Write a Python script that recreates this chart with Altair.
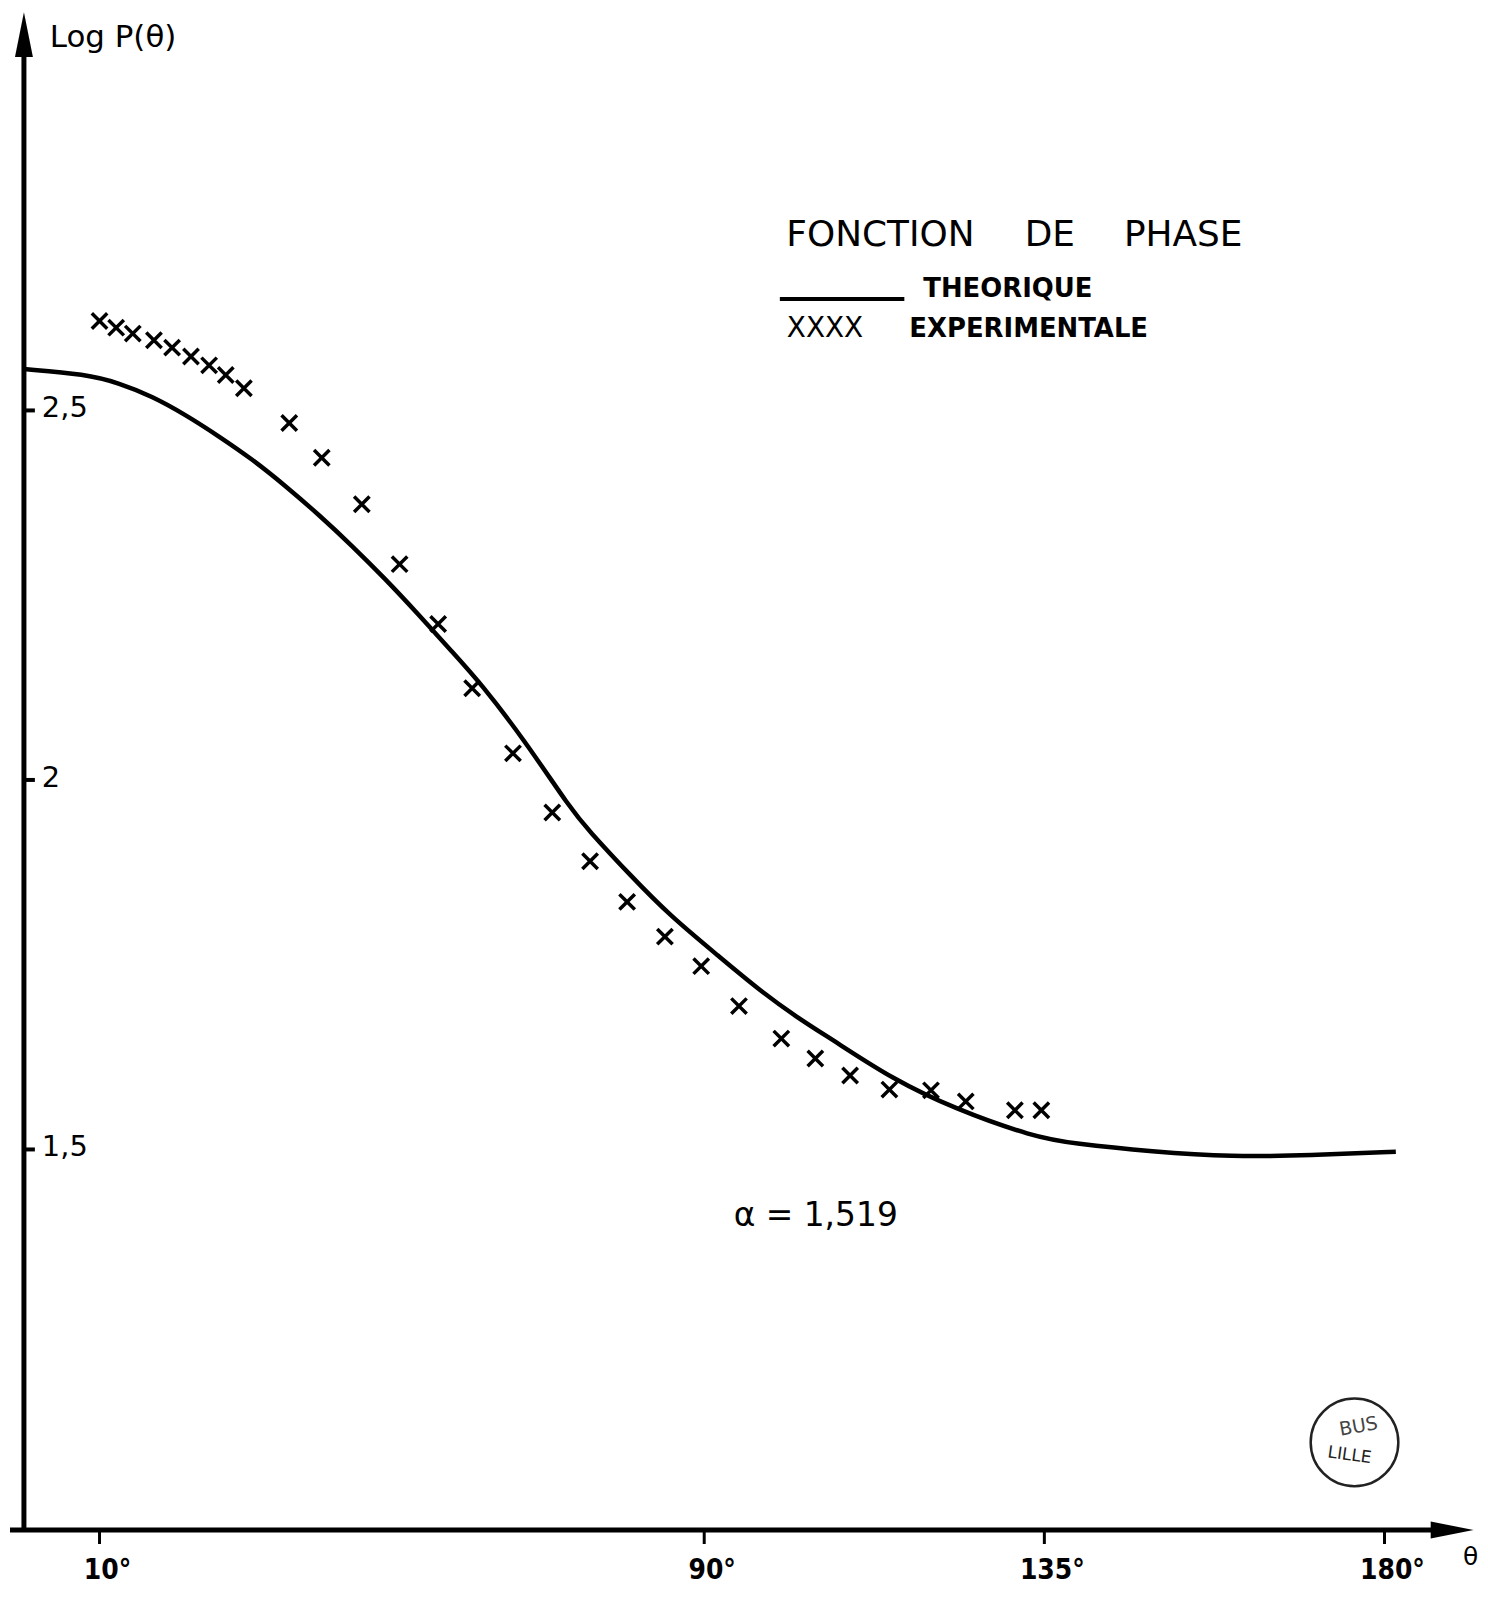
import altair as alt
import pandas as pd

# ---- data ----
theta_curve = [0.0, 8.2, 12.6, 17.0, 21.4, 25.8, 30.2, 34.6, 39.0, 43.4, 47.8, 52.1,
               56.5, 60.5, 66.2, 72.4, 74.6, 80.3, 85.5, 92.1, 97.0, 102.2, 107.5,
               114.8, 123.1, 133.6, 138.8, 149.3, 159.8, 170.2, 181.5]
logp_curve = [2.556, 2.549, 2.537, 2.519, 2.494, 2.465, 2.434, 2.398, 2.359, 2.317, 2.272, 2.225,
              2.175, 2.130, 2.054, 1.960, 1.933, 1.870, 1.816, 1.760, 1.718, 1.679, 1.645,
              1.596, 1.555, 1.517, 1.508, 1.497, 1.490, 1.492, 1.497]

theta_exp = [10.0, 12.2, 14.4, 17.2, 19.6, 22.1, 24.5, 26.7, 29.1, 35.1, 39.4, 44.7, 49.7,
             54.8, 59.3, 64.7, 69.9, 74.9, 79.8, 84.8, 89.6, 94.6, 100.2, 104.7, 109.3,
             114.5, 120.0, 124.6, 131.1, 134.6]
logp_exp = [2.621, 2.612, 2.604, 2.595, 2.585, 2.573, 2.561, 2.548, 2.530, 2.483, 2.436, 2.373,
            2.292, 2.211, 2.124, 2.036, 1.956, 1.890, 1.835, 1.788, 1.748, 1.694, 1.650, 1.623,
            1.600, 1.581, 1.580, 1.565, 1.553, 1.553]

x_ticks = [10, 90, 135, 180]
x_tick_labels = ["10°", "90°", "135°", "180°"]
y_ticks = [1.5, 2.0, 2.5]
y_tick_labels = ["1,5", "2", "2,5"]

X_DOMAIN = [0, 190]
Y_DOMAIN = [0.985, 3.024]
W, H = 1442, 1513
FONT = "DejaVu Sans"

xs = alt.Scale(domain=X_DOMAIN, nice=False, zero=False)
ys = alt.Scale(domain=Y_DOMAIN, nice=False, zero=False)

curve_df = pd.DataFrame({"theta": theta_curve, "logp": logp_curve})
exp_df = pd.DataFrame({"theta": theta_exp, "logp": logp_exp})
xt_df = pd.DataFrame({"theta": x_ticks, "label": x_tick_labels})
yt_df = pd.DataFrame({"logp": y_ticks, "label": y_tick_labels})
dummy = pd.DataFrame({"k": [0]})

X = alt.X("theta:Q", scale=xs, axis=None)
Y = alt.Y("logp:Q", scale=ys, axis=None)

curve = alt.Chart(curve_df).mark_line(
    color="black", strokeWidth=4.5, interpolate="basis", clip=False
).encode(x=X, y=Y)

CROSS = "M-1,-1L1,1M-1,1L1,-1"
points = alt.Chart(exp_df).mark_point(
    shape=CROSS, size=240, filled=False, color="black", strokeWidth=3.5, opacity=1
).encode(x=X, y=Y)

# axes drawn by hand
y_axis = alt.Chart(dummy).mark_rule(color="black", strokeWidth=5).encode(
    x=alt.value(0), y=alt.value(14), y2=alt.value(H + 2))
x_axis = alt.Chart(dummy).mark_rule(color="black", strokeWidth=5).encode(
    x=alt.value(-14), x2=alt.value(1420), y=alt.value(H))
y_arrow = alt.Chart(dummy).mark_point(
    shape="M0,-1L0.4,1L-0.4,1Z", size=2025, filled=True, color="black", opacity=1
).encode(x=alt.value(0), y=alt.value(11.5))
x_arrow = alt.Chart(dummy).mark_point(
    shape="M1,0L-1,-0.4L-1,0.4Z", size=1849, filled=True, color="black", opacity=1
).encode(x=alt.value(1434), y=alt.value(H))

y_tick_marks = alt.Chart(yt_df).mark_rule(color="black", strokeWidth=4).encode(
    y=Y, x=alt.value(0), x2=alt.value(11))
y_tick_text = alt.Chart(yt_df).mark_text(
    font=FONT, fontSize=29, align="left", baseline="middle", color="black", dy=-2
).encode(y=Y, x=alt.value(18), text="label:N")

x_tick_marks = alt.Chart(xt_df).mark_rule(color="black", strokeWidth=3).encode(
    x=X, y=alt.value(H), y2=alt.value(H + 14))
x_tick_text = alt.Chart(xt_df).mark_text(
    font="DejaVu Sans Condensed, DejaVu Sans", fontSize=28, fontWeight="bold",
    align="center", baseline="middle", color="black", dx=8
).encode(x=X, y=alt.value(H + 41), text="label:N")


def label(text, x, y, size, weight="normal", align="left", baseline="middle",
          color="black", angle=0):
    return alt.Chart(dummy).mark_text(
        text=text, font=FONT, fontSize=size, fontWeight=weight, align=align,
        baseline=baseline, color=color, angle=angle
    ).encode(x=alt.value(x), y=alt.value(y))


texts = [
    label("Log P(θ)", 26, 15, 31),
    label("θ", 1445, 1540, 25),
    label("FONCTION", 860, 213, 36, align="center"),
    label("DE", 1030, 213, 36, align="center"),
    label("PHASE", 1164, 213, 36, align="center"),
    label("THEORIQUE", 903, 267, 26, weight="bold"),
    label("XXXX", 766, 307, 28),
    label("EXPERIMENTALE", 889, 307, 26, weight="bold"),
    label("α = 1,519", 795, 1198, 33, align="center"),
]

legend_line = alt.Chart(dummy).mark_rule(color="black", strokeWidth=4).encode(
    x=alt.value(759), x2=alt.value(884), y=alt.value(277))

stamp = alt.Chart(dummy).mark_point(
    shape="circle", size=7744, filled=False, color="#222", strokeWidth=2.5, opacity=1
).encode(x=alt.value(1336), y=alt.value(1425))
stamp_texts = [
    label("BUS", 1340, 1409, 19, align="center", color="#444", angle=350),
    label("LILLE", 1331, 1438, 17, align="center", color="#222", angle=8),
]

chart = alt.layer(
    y_axis, x_axis, y_arrow, x_arrow, y_tick_marks, y_tick_text, x_tick_marks, x_tick_text,
    curve, points, legend_line, stamp, *texts, *stamp_texts
).properties(
    width=W, height=H,
    padding={"left": 16, "top": 12, "right": 20, "bottom": 70},
    autosize=alt.AutoSizeParams(type="none"),
).configure_view(stroke=None)

chart.save("out.html", embed_options={"renderer": "svg", "actions": False})
